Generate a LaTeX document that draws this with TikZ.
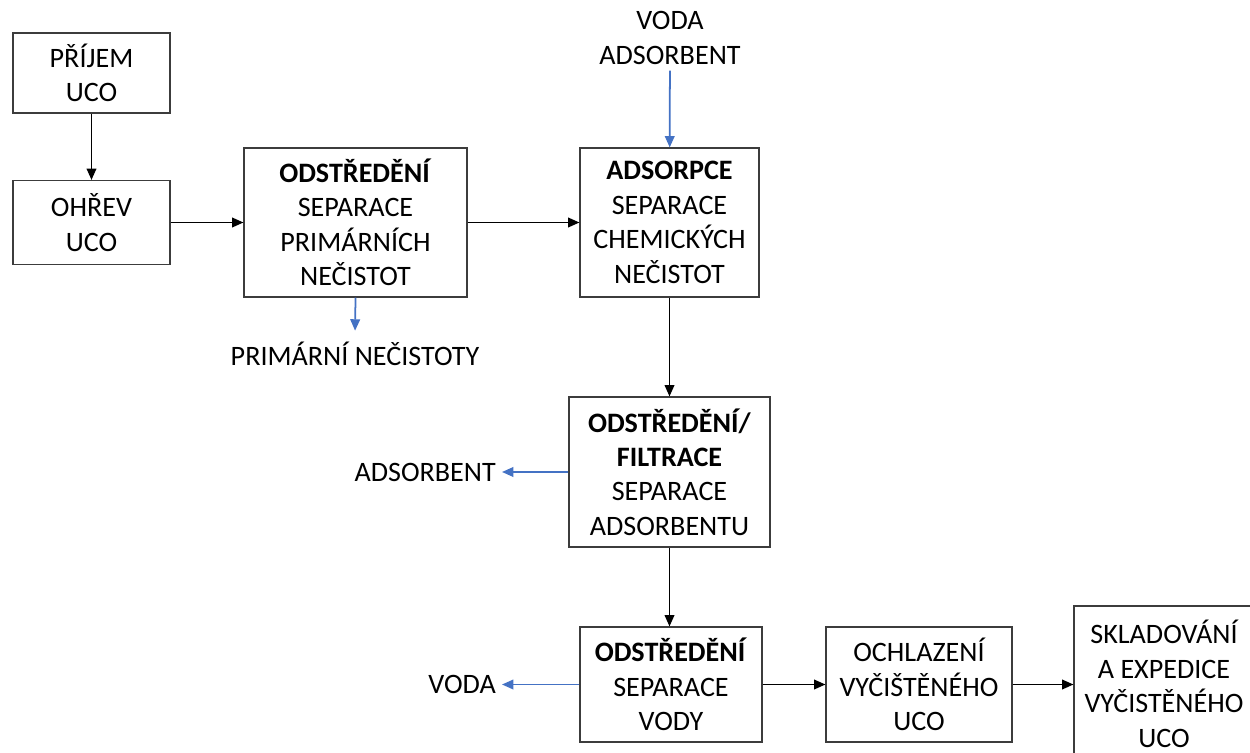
\documentclass[tikz,border=0pt]{standalone}
\usepackage{fontspec}
\setmainfont{Carlito}
\usetikzlibrary{arrows.meta, positioning}
\definecolor{flowblue}{RGB}{68, 114, 196}
\definecolor{boxline}{RGB}{60, 60, 60}

\begin{document}
\begin{tikzpicture}[x=0.02cm, y=-0.02cm,
    font=\fontsize{16}{19.6}\selectfont,
    process/.style={rectangle, draw=boxline, line width=0.65pt, align=center, inner sep=0pt},
    flow/.style={-{Triangle[length=6.5pt, width=5.5pt]}, line width=1pt, black},
    side/.style={-{Triangle[length=6.5pt, width=5.5pt]}, line width=1pt, flowblue}]
            \useasboundingbox (0,0) rectangle (1250,753);
            \clip (0,0) rectangle (1250,753);

            % Main line
            \node[process, minimum width=3.14cm, minimum height=1.6cm] (prijem) at (91.5,73) {PŘÍJEM\\UCO};
            \node[process, minimum width=3.14cm, minimum height=1.68cm] (ohrev) at (91.5,222.5) {OHŘEV\\UCO};
            \node[process, minimum width=4.46cm, minimum height=2.98cm] (odst1) at (355.5,222.5) {\textbf{ODSTŘEDĚNÍ}\\SEPARACE\\PRIMÁRNÍCH\\NEČISTOT};
            \node[process, minimum width=3.58cm, minimum height=2.98cm] (adsorpce) at (669.5,222.5) {\textbf{ADSORPCE}\\SEPARACE\\CHEMICKÝCH\\NEČISTOT};
            \node[process, minimum width=4.02cm, minimum height=3.0cm] (filtrace) at (669.5,472) {\textbf{ODSTŘEDĚNÍ/}\\\textbf{FILTRACE}\\SEPARACE\\ADSORBENTU};
            \node[process, minimum width=3.64cm, minimum height=2.3cm] (odst2) at (671,684.5) {\textbf{ODSTŘEDĚNÍ}\\SEPARACE\\VODY};
            \node[process, minimum width=3.72cm, minimum height=2.3cm] (ochlazeni) at (919,684.5) {OCHLAZENÍ\\VYČIŠTĚNÉHO\\UCO};
            \node[process, minimum width=3.6cm, minimum height=3.12cm] (sklad) at (1164,684) {SKLADOVÁNÍ\\A EXPEDICE\\VYČISTĚNÉHO\\UCO};

            % Inputs and outputs
            \node[align=center] (vstup) at (670,38) {VODA\\ADSORBENT};
            \node (primarni) at (355,354) {PRIMÁRNÍ NEČISTOTY};
            \node[anchor=east] (adsorbent) at (502,472) {ADSORBENT};
            \node[anchor=east] (voda) at (502,684.5) {VODA};

            % Arrows
            \draw[flow] (prijem) -- (ohrev);
            \draw[flow] (ohrev) -- (odst1);
            \draw[flow] (odst1) -- (adsorpce);
            \draw[flow] (adsorpce) -- (filtrace);
            \draw[flow] (filtrace.south) -- (filtrace.south |- odst2.north);
            \draw[flow] (odst2) -- (ochlazeni);
            \draw[flow] (ochlazeni.east) -- (ochlazeni.east -| sklad.west);

            \draw[side] (vstup) -- (adsorpce);
            \draw[side, shorten >=3pt] (odst1.south) -- (primarni.north);
            \draw[side] (filtrace.west) -- (adsorbent.east);
            \draw[side] (odst2.west) -- (voda.east);
        \end{tikzpicture}
\end{document}
